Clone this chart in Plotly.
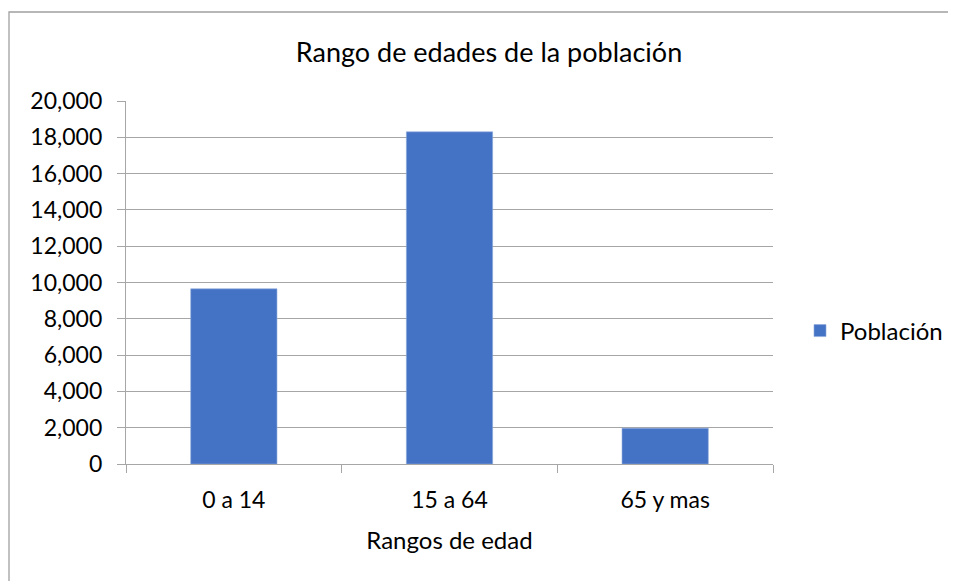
import plotly.graph_objects as go

categories = ["0 a 14", "15 a 64", "65 y mas"]
poblacion = [9650, 18300, 1970]
y_ticks = [0, 2000, 4000, 6000, 8000, 10000, 12000, 14000, 16000, 18000, 20000]

FONT = "Lato"
GRID = "#a6a6a6"
OFF = 8  # page body margin in the browser

fig = go.Figure()
fig.add_trace(go.Bar(
    x=categories, y=poblacion, name="Población",
    marker=dict(color="#4472c4", line=dict(color="#8faadc", width=0.6)),
    showlegend=True,
))

W, H = 956 - OFF, 581 - OFF
L = 126 - OFF
R = W - (773 - OFF)
T = 101 - OFF
B = H - (464 - OFF)
pw, ph = W - L - R, H - T - B

def px_x(p):
    return (p - OFF - L) / pw

def px_y(p):
    return 1 - (p - OFF - T) / ph

bx0, by0 = px_x(9), px_y(12)
bx1, by1 = px_x(956), px_y(581)
border_path = f"M {bx0} {by1} L {bx0} {by0} L {bx1} {by0}"

fig.update_layout(
    width=W, height=H,
    margin=dict(l=L, r=R, t=T, b=B, autoexpand=False),
    paper_bgcolor="white", plot_bgcolor="white",
    font=dict(family=FONT, color="#000000", size=23),
    bargap=0.6,
    title=dict(text="Rango de edades de la población", x=(489 - OFF) / W, xanchor="center",
               y=1 - (53 - OFF) / H, yanchor="middle", font=dict(size=27, family=FONT)),
    showlegend=True,
    legend=dict(x=px_x(800), xanchor="left", y=px_y(331), yanchor="middle",
                font=dict(size=24, family=FONT), bgcolor="rgba(0,0,0,0)",
                itemwidth=30),
    xaxis=dict(
        showline=True, linecolor=GRID, linewidth=1.3,
        ticks="outside", tickson="boundaries", ticklen=8, tickcolor=GRID, tickwidth=1.3,
        tickfont=dict(size=23, family=FONT), ticklabelstandoff=15,
        title=dict(text="Rangos de edad", font=dict(size=24, family=FONT), standoff=20),
        showgrid=False,
    ),
    yaxis=dict(
        range=[0, 20000], tickvals=y_ticks, tickformat=",d",
        showline=True, linecolor=GRID, linewidth=1.3,
        ticks="outside", ticklen=8, tickcolor=GRID, tickwidth=1.3,
        showgrid=True, gridcolor=GRID, gridwidth=1.3,
        tickfont=dict(size=23, family=FONT), ticklabelstandoff=10,
        zeroline=False,
    ),
    shapes=[dict(type="path", xref="paper", yref="paper", path=border_path,
                 line=dict(color="#a0a0a0", width=1.3), layer="below")],
)

fig.write_html("out.html", config={"displayModeBar": False})
